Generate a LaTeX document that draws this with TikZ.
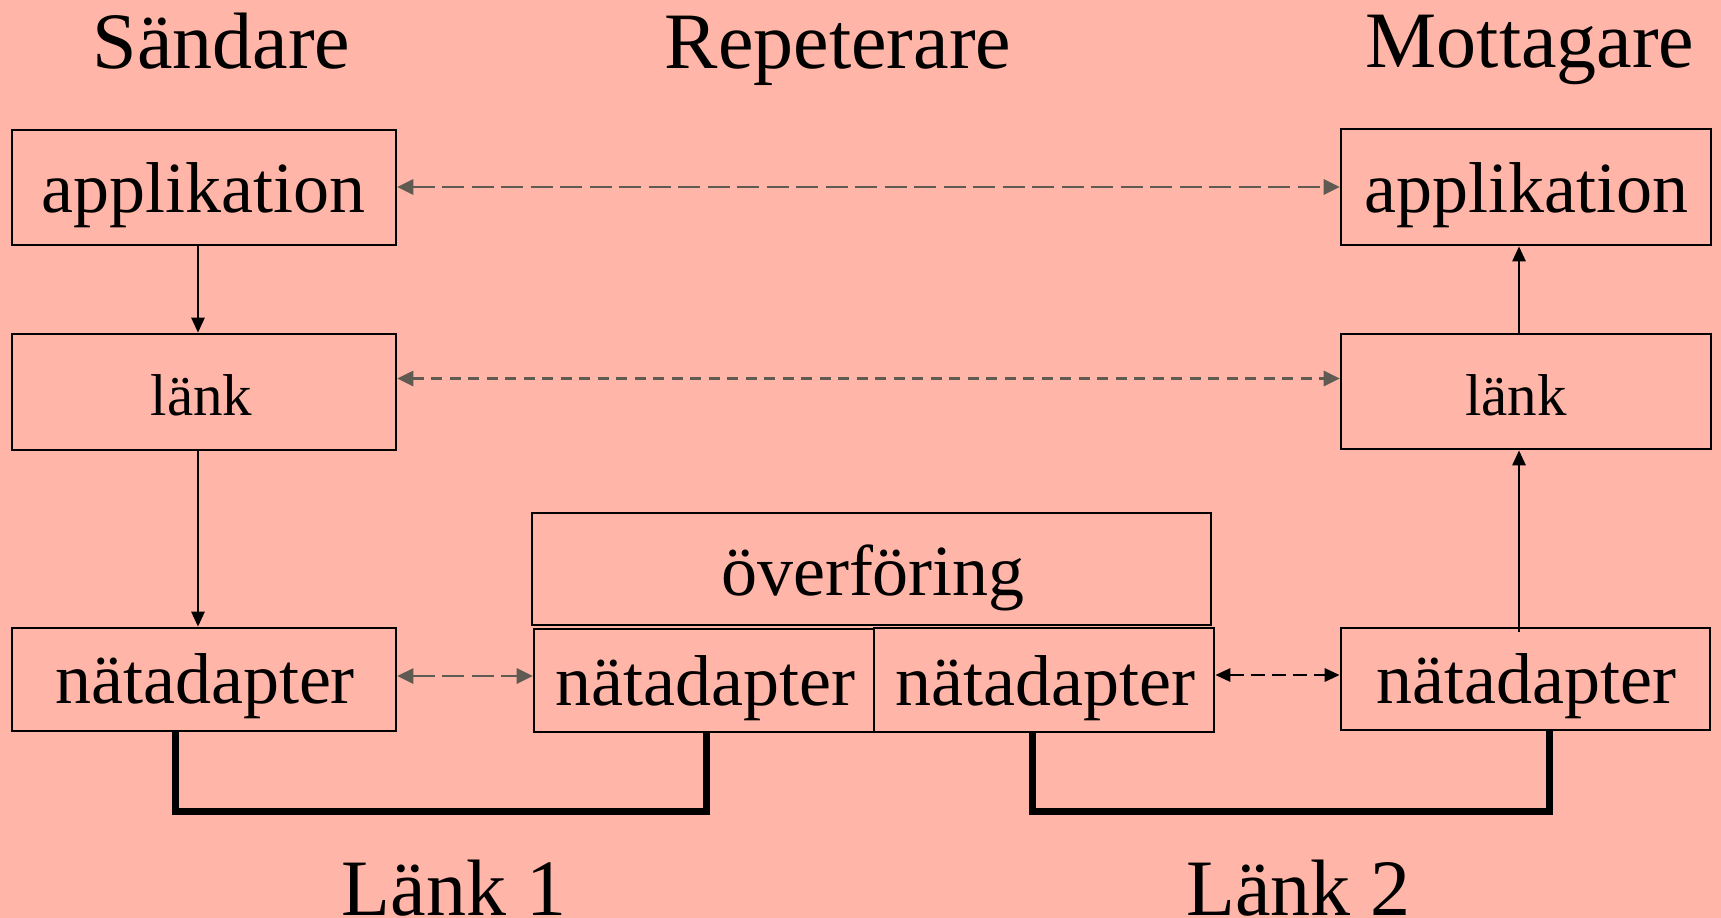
\documentclass[tikz,border=0pt]{standalone}
\usepackage{fontspec}
\setmainfont{Liberation Serif}
\usetikzlibrary{arrows.meta}
\definecolor{bgsalmon}{HTML}{FFB5A7}
\definecolor{dashgray}{HTML}{5F5A52}
\begin{document}
\begin{tikzpicture}[x=1pt,y=-1pt,
  boxst/.style={draw=black,line width=2.6pt,minimum width=#1,inner sep=0pt},
  boxst/.default=384pt,
  title/.style={anchor=base,inner sep=0pt,font=\fontsize{80}{90}\selectfont},
  btext/.style={anchor=base,inner sep=0pt,font=\fontsize{72}{80}\selectfont},
  stext/.style={anchor=base,inner sep=0pt,font=\fontsize{59}{66}\selectfont},
  flow/.style={line width=2.6pt,-{Triangle[length=15pt,width=13pt]}},
  peerlong/.style={line width=2.8pt,dashgray,dash pattern=on 22pt off 7.5pt,{Triangle[length=16pt,width=15pt]}-{Triangle[length=16pt,width=15pt]}},
  peershort/.style={line width=2.8pt,dashgray,dash pattern=on 11pt off 7.5pt,{Triangle[length=16pt,width=15pt]}-{Triangle[length=16pt,width=15pt]}},
  peerblack/.style={line width=2.8pt,black,dash pattern=on 14pt off 7pt,{Triangle[length=15pt,width=13pt]}-{Triangle[length=15pt,width=13pt]}},
  wire/.style={line width=7pt,line join=miter,line cap=butt}]
\fill[bgsalmon] (0,0) rectangle (1721,918);
\useasboundingbox (0,0) rectangle (1721,918);

% titles
\node[title] (tsend) at (221.5,68) {Sändare};
\node[title] (trep) at (838,68) {Repeterare};
\node[title] (trec) at (1530,67) {Mottagare};

% sender boxes
\node[boxst=384pt,minimum height=115pt] (sapp) at (204,187.5) {};
\node[boxst=384pt,minimum height=116pt] (slnk) at (204,392) {};
\node[boxst=384pt,minimum height=103pt] (snat) at (204,679.5) {};
\node[btext] (sappt) at (203,212) {applikation};
\node[stext] (slnkt) at (201.5,415) {länk};
\node[btext] (snatt) at (205,703) {nätadapter};

% repeater boxes
\node[boxst=679pt,minimum height=112pt] (ovf) at (871.5,569) {};
\node[boxst=340pt,minimum height=103pt] (rnatA) at (704,680.5) {};
\node[boxst=340pt,minimum height=104pt] (rnatB) at (1044,680) {};
\node[btext] (ovft) at (873,595) {överföring};
\node[btext] (rnatAt) at (705,705) {nätadapter};
\node[btext] (rnatBt) at (1045.5,705) {nätadapter};

% receiver boxes
\node[boxst=370pt,minimum height=116pt] (rapp) at (1526,187) {};
\node[boxst=370pt,minimum height=115pt] (rlnk) at (1526,391.5) {};
\node[boxst=369pt,minimum height=102pt] (rnat) at (1525.5,679) {};
\node[btext] (rappt) at (1526,212) {applikation};
\node[stext] (rlnkt) at (1516,415) {länk};
\node[btext] (rnatt) at (1526,703) {nätadapter};

% vertical flow
\draw[flow] (sapp.south -| 198,0) -- (slnk.north -| 198,0);
\draw[flow] (slnk.south -| 198,0) -- (snat.north -| 198,0);
\draw[flow] ([yshift=-5pt]rnat.north -| 1519,0) -- (rlnk.south -| 1519,0);
\draw[flow] (rlnk.north -| 1519,0) -- (rapp.south -| 1519,0);

% peer arrows
\draw[peerlong] ([yshift=0.5pt]sapp.east) -- ([yshift=0.5pt]sapp.east -| rapp.west);
\draw[peershort] ([yshift=13.5pt]slnk.east) -- ([yshift=13.5pt]slnk.east -| rlnk.west);
\draw[peerlong] ([yshift=3.5pt]snat.east) -- ([yshift=3.5pt]snat.east -| rnatA.west);
\draw[peerblack] ([yshift=5pt]rnatB.east) -- ([yshift=5pt]rnatB.east -| rnat.west);

% links
\coordinate (w1) at (175,811);
\coordinate (w2) at (706,811);
\coordinate (w3) at (1032,811);
\coordinate (w4) at (1549,811);
\draw[wire] (snat.south -| w1) -- (w1) -- (w2) -- (rnatA.south -| w2);
\draw[wire] (rnatB.south -| w3) -- (w3) -- (w4) -- (rnat.south -| w4);
\node[title] (l1) at (454,915) {Länk 1};
\node[title] (l2) at (1298.5,915) {Länk 2};
\end{tikzpicture}
\end{document}
